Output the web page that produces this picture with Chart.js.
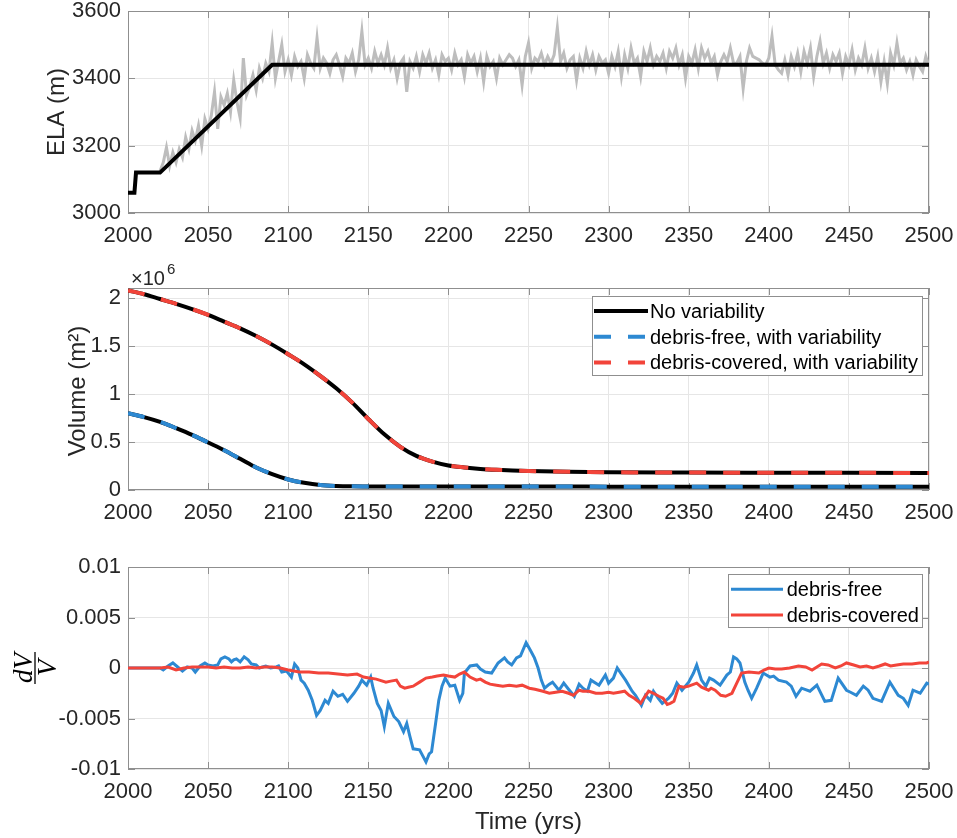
<!DOCTYPE html>
<html>
<head>
<meta charset="utf-8">
<script src="https://cdn.jsdelivr.net/npm/chart.js@4/dist/chart.umd.min.js"></script>
<style>
  body { margin: 0; background: #fff; }
  #wrap { position: relative; width: 957px; height: 838px; }
  .panel { position: absolute; left: 0; width: 957px; }
</style>
</head>
<body>
<div id="wrap">
  <div class="panel" style="top:0;height:260px"><canvas id="elaChart"></canvas></div>
  <div class="panel" style="top:260px;height:280px"><canvas id="volChart"></canvas></div>
  <div class="panel" style="top:540px;height:298px"><canvas id="dvChart"></canvas></div>
</div>
<script>
// ---- tick values ----
const xTicks = [2000, 2050, 2100, 2150, 2200, 2250, 2300, 2350, 2400, 2450, 2500];
const elaTicks = [3000, 3200, 3400, 3600];
const volTicks = [0, 0.5, 1, 1.5, 2];
const dvTicks = [-0.01, -0.005, 0, 0.005, 0.01];

// ---- ELA: scenario without variability ----
const elaMeanYears = [2000, 2004, 2005, 2020, 2090, 2500];
const elaMean = [3060, 3060, 3120, 3120, 3440, 3440];

// ---- ELA with year-to-year variability, every 2 yrs from 2020 ----
const elaNoisyStart = 2020;
const elaNoisyStep = 2;
const elaNoisy = [
  3125, 3150, 3195, 3140, 3180, 3150, 3190, 3165, 3225, 3190,
  3245, 3215, 3260, 3200, 3280, 3250, 3290, 3360, 3250, 3345,
  3320, 3355, 3300, 3395, 3330, 3282, 3460, 3350, 3375, 3410,
  3365, 3430, 3400, 3445, 3420, 3505, 3400, 3450, 3500, 3420,
  3455, 3410, 3465, 3435, 3450, 3400, 3470, 3445, 3430, 3520,
  3430, 3460, 3445, 3415, 3455, 3470, 3440, 3405, 3460, 3445,
  3475, 3420, 3455, 3540, 3440, 3460, 3430, 3480, 3445, 3470,
  3440, 3490, 3430, 3455, 3400, 3445, 3460, 3360, 3450, 3430,
  3465, 3420, 3470, 3445, 3475, 3430, 3455, 3410, 3470, 3450,
  3460, 3425, 3475, 3440, 3455, 3405, 3470, 3445, 3465, 3420,
  3460, 3390, 3465, 3435, 3450, 3400, 3460, 3440, 3455, 3470,
  3460, 3435, 3455, 3380, 3465, 3505, 3430, 3460, 3450, 3475,
  3440, 3465, 3445, 3470, 3550, 3450, 3475, 3430, 3455, 3465,
  3395, 3460, 3430, 3480, 3440, 3470, 3425, 3465, 3445, 3455,
  3415, 3465, 3435, 3480, 3405, 3470, 3430, 3490, 3445, 3460,
  3405, 3480, 3450, 3490, 3440, 3465, 3450, 3475, 3430, 3480,
  3460, 3490, 3440, 3470, 3400, 3465, 3445, 3485, 3430, 3490,
  3460, 3480, 3445, 3465, 3410, 3450, 3470, 3450, 3490, 3445,
  3445, 3465, 3370, 3450, 3490, 3465, 3460, 3455, 3445, 3440,
  3460, 3525, 3440, 3425, 3415, 3455, 3410, 3465, 3435, 3475,
  3420, 3480, 3445, 3490, 3405, 3465, 3510, 3445, 3475, 3430,
  3470, 3450, 3475, 3415, 3465, 3440, 3485, 3425, 3460, 3440,
  3490, 3430, 3460, 3420, 3465, 3390, 3450, 3385, 3475, 3440,
  3505, 3445, 3460, 3425, 3450, 3410, 3455, 3435, 3420, 3465,
  3435
];

// ---- glacier volume (x10^6 m^2) ----
const volYears = [2000, 2010, 2020, 2030, 2040, 2050, 2060, 2070, 2080, 2090,
                  2100, 2110, 2120, 2130, 2140, 2150, 2160, 2170, 2180, 2190,
                  2200, 2210, 2220, 2230, 2240, 2250, 2275, 2300, 2350, 2400, 2450, 2500];
const volFree = [0.80, 0.76, 0.71, 0.645, 0.575, 0.495, 0.415, 0.325, 0.235, 0.165,
                 0.11, 0.075, 0.052, 0.042, 0.038, 0.037, 0.036, 0.036, 0.036, 0.036,
                 0.036, 0.036, 0.036, 0.036, 0.036, 0.036, 0.036, 0.035, 0.035, 0.035, 0.035, 0.035];
const volCovered = [2.08, 2.04, 1.99, 1.94, 1.885, 1.825, 1.755, 1.685, 1.605, 1.515,
                    1.415, 1.31, 1.19, 1.06, 0.91, 0.74, 0.58, 0.45, 0.355, 0.295,
                    0.255, 0.235, 0.22, 0.21, 0.203, 0.198, 0.19, 0.185, 0.182, 0.18, 0.179, 0.178];

// ---- relative volume difference dV/V ----
const dvFreeYears = [2000, 2020, 2022, 2025, 2028, 2031, 2034, 2037, 2040, 2042, 2045, 2048, 2050, 2053, 2056,
  2058, 2060.5, 2063, 2064.6, 2066, 2067.7, 2070, 2072.5, 2075, 2077, 2080, 2082, 2084, 2086, 2089,
  2092.5, 2094, 2096, 2099, 2102, 2104, 2106, 2108, 2110, 2112.5, 2115, 2117.7, 2120, 2123, 2125,
  2128, 2131, 2134, 2137, 2141, 2144, 2146, 2149, 2151.5, 2153, 2155.6, 2158, 2160, 2162.5, 2166,
  2169, 2172, 2174, 2176, 2178, 2182, 2184, 2186, 2188, 2189.5, 2192, 2194, 2196, 2198, 2201,
  2204, 2207, 2209, 2210, 2213.5, 2217.7, 2220, 2223, 2227, 2231, 2235, 2237, 2239.5, 2242.5, 2245,
  2248.5, 2251, 2253.7, 2256, 2258, 2260, 2263, 2265, 2269, 2272, 2275, 2278.6, 2281.6, 2284, 2286.8,
  2289, 2294, 2298, 2300, 2303, 2305.4, 2308, 2310.6, 2314.7, 2316.8, 2320.5, 2323, 2326, 2328, 2331,
  2333.5, 2337.5, 2340, 2342.6, 2345.8, 2350, 2353, 2355, 2358, 2360.7, 2363, 2365.5, 2369.6, 2373.8, 2376,
  2378, 2380, 2382, 2385, 2387, 2389.3, 2392.4, 2396.5, 2400.7, 2403, 2406, 2411, 2414, 2417, 2420.5,
  2425.7, 2430, 2435, 2439, 2443.3, 2448.5, 2451, 2454.7, 2459, 2462, 2465, 2470.4, 2475.6, 2478, 2480.8,
  2484, 2487, 2490, 2494.5, 2498.6, 2500];
const dvFree = [0, 0, -0.0002, 0.0002, 0.0005, 0.0001, -0.0003, 0.0001, 0, -0.0004, 0.0002, 0.0005, 0.0003, 0.0002, 0.0003,
  0.0009, 0.0011, 0.0009, 0.0006, 0.0008, 0.0009, 0.0006, 0.0011, 0.0008, 0.0004, 0.0003, 0, 0.0001, 0.0002, 0,
  0.0001, 0.0002, -0.0004, -0.0003, -0.0009, 0.0004, 0, -0.0012, -0.0015, -0.0022, -0.0032, -0.0047, -0.0042, -0.0032, -0.0035,
  -0.0023, -0.0028, -0.0026, -0.0033, -0.0025, -0.0018, -0.0012, -0.0017, -0.0009, -0.002, -0.0035, -0.0042, -0.0058, -0.0035, -0.0048,
  -0.0053, -0.0063, -0.0055, -0.0068, -0.008, -0.0081, -0.0087, -0.0093, -0.0085, -0.0083, -0.0055, -0.0032, -0.0018, -0.001, -0.0018,
  -0.0017, -0.0032, -0.0025, -0.0005, 0.0002, 0.0003, -0.0001, -0.0004, -0.0005, 0.0005, 0.001, 0.0006, 0.0003, 0.001, 0.0012,
  0.0025, 0.0018, 0.001, 0, -0.0012, -0.002, -0.0016, -0.0014, -0.0022, -0.0015, -0.0021, -0.0028, -0.0016, -0.002, -0.0023,
  -0.0012, -0.0017, -0.0007, -0.0015, -0.001, 0, -0.0006, -0.0012, -0.0023, -0.0027, -0.0037, -0.0027, -0.0032, -0.0023, -0.003,
  -0.0035, -0.003, -0.0025, -0.0015, -0.0022, -0.0014, -0.0005, 0.0003, -0.0012, -0.0018, -0.001, -0.0012, -0.0017, -0.0007, -0.0004,
  0.0011, 0.0009, 0.0005, -0.0014, -0.0022, -0.003, -0.002, -0.0005, -0.0009, -0.0008, -0.0012, -0.0014, -0.0018, -0.0028, -0.002,
  -0.0023, -0.0017, -0.0033, -0.0032, -0.001, -0.0022, -0.0024, -0.0027, -0.0018, -0.0022, -0.003, -0.0033, -0.0014, -0.002, -0.0027,
  -0.003, -0.0037, -0.0022, -0.0025, -0.0015, -0.0016];

const dvCoveredYears = [2000, 2020, 2025, 2030, 2035, 2040, 2045, 2050, 2055, 2060, 2065, 2070, 2075, 2080, 2085,
  2090, 2095, 2100, 2107, 2113, 2119, 2125, 2131, 2137, 2143, 2147, 2150.5, 2155, 2161, 2164,
  2167.6, 2170, 2172.7, 2175, 2178, 2182, 2186, 2190, 2193, 2197, 2200, 2204, 2207, 2210, 2213.5,
  2217.5, 2220, 2223, 2226, 2230, 2234, 2238, 2242.5, 2246, 2250.5, 2254, 2259, 2263, 2267, 2271,
  2275, 2278, 2281.6, 2284, 2287.8, 2292, 2296, 2300, 2303, 2306.6, 2310, 2312.8, 2316, 2320, 2322,
  2325, 2328, 2331.4, 2334, 2336.6, 2338.5, 2340.8, 2343, 2344, 2347, 2350, 2355, 2358, 2362.4, 2364,
  2366.5, 2370, 2373, 2377, 2380, 2383, 2387.6, 2393.8, 2397, 2400, 2404, 2408, 2413, 2418.5, 2423,
  2427, 2433, 2437, 2441.5, 2445, 2448.5, 2453, 2457, 2461, 2465, 2469, 2472.6, 2476, 2479.8, 2484,
  2489.4, 2494, 2498.6, 2500];
const dvCovered = [0, 0, 0.0001, -0.0002, 0, 0.0001, 0.0001, 0.0001, 0, 0.0001, 0, 0, 0.0001, 0, 0.0001,
  0.0001, 0, -0.0002, -0.0004, -0.0004, -0.0005, -0.0005, -0.0006, -0.0007, -0.0006, -0.0009, -0.001, -0.0011, -0.0014, -0.0013,
  -0.0012, -0.0018, -0.002, -0.0019, -0.0018, -0.0014, -0.001, -0.0009, -0.0008, -0.0007, -0.0008, -0.0009, -0.0006, -0.0004, -0.0009,
  -0.0012, -0.0011, -0.0014, -0.0016, -0.0017, -0.0018, -0.0017, -0.0018, -0.0017, -0.002, -0.0021, -0.0023, -0.0025, -0.0024, -0.0023,
  -0.0025, -0.0027, -0.0022, -0.0023, -0.0023, -0.0025, -0.0025, -0.0024, -0.0025, -0.0024, -0.0023, -0.0027, -0.003, -0.0035, -0.003,
  -0.0023, -0.0025, -0.0028, -0.003, -0.0036, -0.0035, -0.0033, -0.0022, -0.0018, -0.0019, -0.0018, -0.0015, -0.0019, -0.0022, -0.002,
  -0.0022, -0.0027, -0.0028, -0.0025, -0.0015, -0.0005, -0.0004, -0.0005, -0.0002, 0, -0.0001, -0.0001, 0, 0.0002, 0.0001,
  -0.0002, 0.0004, 0.0003, 0, 0.0002, 0.0005, 0.0003, 0.0001, 0.0002, 0, 0.0002, 0.0004, 0.0002, 0.0003, 0.0004,
  0.0004, 0.0005, 0.0005, 0.0006];

// ---- colours ----
const BLUE = '#2d89d2';
const RED = '#f2443a';
const GREY = '#bdbdbd';
const AXIS = '#8f8f8f';
const TXT = '#262626';
const FONT = '"Liberation Sans", Arial, Helvetica, sans-serif';

function pts(xs, ys) {
  return xs.map((x, i) => ({ x: x, y: ys[i] }));
}

const elaNoisyPts = elaNoisy.map((v, i) => ({ x: elaNoisyStart + i * elaNoisyStep, y: v }));

// box, inward ticks, free text and an in-axes legend, matlab style
const matlabAxes = {
  id: 'matlabAxes',
  beforeDatasetsDraw(chart, args, opts) {
    const { ctx, chartArea: a, scales } = chart;
    ctx.save();
    ctx.strokeStyle = AXIS;
    ctx.lineWidth = 1;
    ctx.strokeRect(a.left + 0.5, a.top + 0.5, a.width - 1, a.height - 1);
    const len = 7;
    ctx.beginPath();
    scales.x.ticks.forEach(t => {
      const x = Math.round(scales.x.getPixelForValue(t.value)) + 0.5;
      ctx.moveTo(x, a.bottom); ctx.lineTo(x, a.bottom - len);
      ctx.moveTo(x, a.top); ctx.lineTo(x, a.top + len);
    });
    scales.y.ticks.forEach(t => {
      const y = Math.round(scales.y.getPixelForValue(t.value)) + 0.5;
      ctx.moveTo(a.left, y); ctx.lineTo(a.left + len, y);
      ctx.moveTo(a.right, y); ctx.lineTo(a.right - len, y);
    });
    ctx.stroke();
    ctx.restore();
  },
  afterDraw(chart, args, opts) {
    const ctx = chart.ctx;
    (opts.texts || []).forEach(t => {
      ctx.save();
      ctx.fillStyle = t.color || TXT;
      ctx.font = t.font;
      ctx.textAlign = t.align || 'center';
      ctx.textBaseline = 'alphabetic';
      ctx.translate(t.x, t.y);
      if (t.rotate) ctx.rotate(-Math.PI / 2);
      ctx.fillText(t.text, 0, 0);
      ctx.restore();
    });
    if (opts.frac) {
      const f = opts.frac;
      ctx.save();
      ctx.fillStyle = '#000';
      ctx.strokeStyle = '#000';
      ctx.font = f.font;
      ctx.textAlign = 'center';
      ctx.translate(f.x, f.y);
      ctx.rotate(-Math.PI / 2);
      ctx.fillText(f.num, 0, f.numBase);
      ctx.fillText(f.den, 0, f.denBase);
      ctx.lineWidth = 1.3;
      ctx.beginPath();
      ctx.moveTo(-f.bar / 2, f.barY); ctx.lineTo(f.bar / 2, f.barY);
      ctx.stroke();
      ctx.restore();
    }
    if (opts.legend) {
      const lg = opts.legend;
      const items = chart.data.datasets.filter(d => d.inLegend);
      ctx.save();
      ctx.fillStyle = '#fff';
      ctx.fillRect(lg.x, lg.y, lg.w, lg.h);
      ctx.strokeStyle = AXIS;
      ctx.lineWidth = 1;
      ctx.strokeRect(lg.x + 0.5, lg.y + 0.5, lg.w, lg.h);
      ctx.font = '20px ' + FONT;
      ctx.textAlign = 'left';
      ctx.textBaseline = 'alphabetic';
      items.forEach((d, i) => {
        const y = lg.y + lg.firstRow + i * lg.rowH;
        ctx.beginPath();
        ctx.setLineDash(d.borderDash || []);
        ctx.strokeStyle = d.borderColor;
        ctx.lineWidth = d.borderWidth;
        ctx.moveTo(lg.x + lg.sx0, y);
        ctx.lineTo(lg.x + lg.sx1, y);
        ctx.stroke();
        ctx.setLineDash([]);
        ctx.fillStyle = '#000';
        ctx.fillText(d.label, lg.x + lg.tx, y + 7);
      });
      ctx.restore();
    }
  }
};

function axesOptions(cfg) {
  const tickFont = { family: FONT, size: 22, lineHeight: 1 };
  return {
    responsive: true,
    maintainAspectRatio: false,
    animation: false,
    layout: { padding: { top: cfg.top, right: 28, bottom: 0, left: 0 } },
    elements: { point: { radius: 0 }, line: { tension: 0 } },
    scales: {
      x: {
        type: 'linear', min: 2000, max: 2500,
        afterBuildTicks: s => { s.ticks = xTicks.map(v => ({ value: v })); },
        afterFit: s => { s.height = cfg.xHeight; s.paddingLeft = 0; s.paddingRight = 0; },
        grid: { color: '#e6e6e6', drawTicks: false },
        border: { display: false },
        ticks: { font: tickFont, color: TXT, padding: 12, maxRotation: 0, callback: v => String(v) }
      },
      y: {
        type: 'linear', min: cfg.yMin, max: cfg.yMax,
        afterBuildTicks: s => { s.ticks = cfg.yTicks.map(v => ({ value: v })); },
        afterFit: s => { s.width = 128; s.paddingTop = 0; s.paddingBottom = 0; },
        grid: { color: '#e6e6e6', drawTicks: false },
        border: { display: false },
        ticks: { font: tickFont, color: TXT, padding: 7, callback: v => String(v) }
      }
    },
    plugins: {
      legend: { display: false },
      tooltip: { enabled: false },
      matlabAxes: cfg.extras
    }
  };
}

// ELA panel
new Chart(document.getElementById('elaChart'), {
  type: 'line',
  data: {
    datasets: [
      { data: pts(elaMeanYears, elaMean), borderColor: '#000', borderWidth: 4, order: 1 },
      { data: elaNoisyPts, borderColor: GREY, borderWidth: 3, order: 2 }
    ]
  },
  options: axesOptions({
    top: 11, xHeight: 47, yMin: 3000, yMax: 3600, yTicks: elaTicks,
    extras: { texts: [{ text: 'ELA (m)', x: 64, y: 112, rotate: true, font: '24px ' + FONT }] }
  }),
  plugins: [matlabAxes]
});

// volume panel
const dash = [17, 17];
new Chart(document.getElementById('volChart'), {
  type: 'line',
  data: {
    datasets: [
      { label: 'No variability', inLegend: true, data: pts(volYears, volCovered),
        borderColor: '#000', borderWidth: 4, cubicInterpolationMode: 'monotone', order: 2 },
      { label: 'debris-free, with variability', inLegend: true, data: pts(volYears, volFree),
        borderColor: BLUE, borderWidth: 4, borderDash: dash, cubicInterpolationMode: 'monotone', order: 1 },
      { label: 'debris-covered, with variability', inLegend: true, data: pts(volYears, volCovered),
        borderColor: RED, borderWidth: 4, borderDash: dash, cubicInterpolationMode: 'monotone', order: 1 },
      { label: 'No variability', data: pts(volYears, volFree),
        borderColor: '#000', borderWidth: 4, cubicInterpolationMode: 'monotone', order: 2 }
    ]
  },
  options: axesOptions({
    top: 28, xHeight: 50, yMin: 0, yMax: 2.105, yTicks: volTicks,
    extras: {
      texts: [
        { text: 'Volume (m\u00B2)', x: 85, y: 131, rotate: true, font: '24px ' + FONT },
        { text: '\u00D710', x: 131, y: 25, align: 'left', font: '20px ' + FONT },
        { text: '6', x: 167, y: 13.5, align: 'left', font: '15px ' + FONT }
      ],
      legend: { x: 592, y: 36, w: 330, h: 79, firstRow: 15, rowH: 25.7, sx0: 2, sx1: 56, tx: 58 }
    }
  }),
  plugins: [matlabAxes]
});

// dV/V panel
new Chart(document.getElementById('dvChart'), {
  type: 'line',
  data: {
    datasets: [
      { label: 'debris-free', inLegend: true, data: pts(dvFreeYears, dvFree),
        borderColor: BLUE, borderWidth: 3, order: 2 },
      { label: 'debris-covered', inLegend: true, data: pts(dvCoveredYears, dvCovered),
        borderColor: RED, borderWidth: 3, order: 1 }
    ]
  },
  options: axesOptions({
    top: 27, xHeight: 69, yMin: -0.01, yMax: 0.01, yTicks: dvTicks,
    extras: {
      texts: [{ text: 'Time (yrs)', x: 528.5, y: 289, font: '24px ' + FONT }],
      frac: { num: 'dV', den: 'V', x: 37, y: 128, font: 'italic 27px "Liberation Serif", "Times New Roman", serif',
              numBase: -5, denBase: 19, barY: -2, bar: 32 },
      legend: { x: 728, y: 34, w: 194, h: 53, firstRow: 15.3, rowH: 25.7, sx0: 3, sx1: 55, tx: 58.7 }
    }
  }),
  plugins: [matlabAxes]
});
</script>
</body>
</html>
